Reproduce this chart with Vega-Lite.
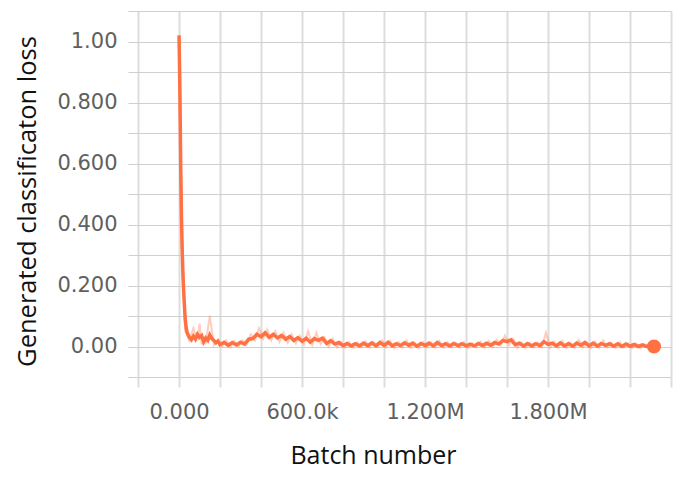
{
  "$schema": "https://vega.github.io/schema/vega-lite/v6.json",
  "autosize": {"type": "none"},
  "padding": {"left": 128, "top": 11, "right": 27, "bottom": 103},
  "width": 543,
  "height": 366,
  "background": "white",
  "config": {"view": {"stroke": null}},
  "datasets": {
    "smooth": [
      {"x": 0, "y": 1.02}, {"x": 4000, "y": 0.85}, {"x": 8000, "y": 0.6}, {"x": 12000, "y": 0.42}, {"x": 16000, "y": 0.3},
      {"x": 20000, "y": 0.22}, {"x": 25000, "y": 0.15}, {"x": 30000, "y": 0.09}, {"x": 35000, "y": 0.06}, {"x": 40000, "y": 0.045},
      {"x": 50000, "y": 0.03}, {"x": 60000, "y": 0.022}, {"x": 70000, "y": 0.034}, {"x": 80000, "y": 0.024}, {"x": 90000, "y": 0.04},
      {"x": 100000, "y": 0.03}, {"x": 110000, "y": 0.036}, {"x": 120000, "y": 0.016}, {"x": 130000, "y": 0.028}, {"x": 140000, "y": 0.02},
      {"x": 150000, "y": 0.038}, {"x": 160000, "y": 0.026}, {"x": 170000, "y": 0.02}, {"x": 180000, "y": 0.012}, {"x": 190000, "y": 0.018},
      {"x": 200000, "y": 0.006}, {"x": 220000, "y": 0.014}, {"x": 240000, "y": 0.004}, {"x": 260000, "y": 0.013}, {"x": 280000, "y": 0.005},
      {"x": 300000, "y": 0.014}, {"x": 320000, "y": 0.008}, {"x": 340000, "y": 0.024}, {"x": 360000, "y": 0.026}, {"x": 380000, "y": 0.04},
      {"x": 400000, "y": 0.032}, {"x": 420000, "y": 0.045}, {"x": 440000, "y": 0.03}, {"x": 460000, "y": 0.04}, {"x": 480000, "y": 0.028},
      {"x": 500000, "y": 0.036}, {"x": 520000, "y": 0.024}, {"x": 540000, "y": 0.033}, {"x": 560000, "y": 0.02}, {"x": 580000, "y": 0.029},
      {"x": 600000, "y": 0.017}, {"x": 620000, "y": 0.027}, {"x": 640000, "y": 0.014}, {"x": 660000, "y": 0.026}, {"x": 680000, "y": 0.02},
      {"x": 700000, "y": 0.027}, {"x": 720000, "y": 0.01}, {"x": 740000, "y": 0.019}, {"x": 760000, "y": 0.008}, {"x": 780000, "y": 0.013},
      {"x": 800000, "y": 0.003}, {"x": 820000, "y": 0.01}, {"x": 840000, "y": 0.002}, {"x": 860000, "y": 0.009}, {"x": 880000, "y": 0.002},
      {"x": 900000, "y": 0.011}, {"x": 920000, "y": 0.003}, {"x": 940000, "y": 0.012}, {"x": 960000, "y": 0.002}, {"x": 980000, "y": 0.013},
      {"x": 1000000, "y": 0.004}, {"x": 1020000, "y": 0.014}, {"x": 1040000, "y": 0.002}, {"x": 1060000, "y": 0.009}, {"x": 1080000, "y": 0.003},
      {"x": 1100000, "y": 0.012}, {"x": 1120000, "y": 0.004}, {"x": 1140000, "y": 0.011}, {"x": 1160000, "y": 0.001}, {"x": 1180000, "y": 0.01},
      {"x": 1200000, "y": 0.003}, {"x": 1220000, "y": 0.011}, {"x": 1240000, "y": 0.002}, {"x": 1260000, "y": 0.013}, {"x": 1280000, "y": 0.003},
      {"x": 1300000, "y": 0.009}, {"x": 1320000, "y": 0.002}, {"x": 1340000, "y": 0.01}, {"x": 1360000, "y": 0.003}, {"x": 1380000, "y": 0.009},
      {"x": 1400000, "y": 0.002}, {"x": 1420000, "y": 0.008}, {"x": 1440000, "y": 0.002}, {"x": 1460000, "y": 0.01}, {"x": 1480000, "y": 0.003},
      {"x": 1500000, "y": 0.011}, {"x": 1520000, "y": 0.004}, {"x": 1540000, "y": 0.013}, {"x": 1560000, "y": 0.008}, {"x": 1580000, "y": 0.02},
      {"x": 1600000, "y": 0.016}, {"x": 1620000, "y": 0.022}, {"x": 1640000, "y": 0.006}, {"x": 1660000, "y": 0.011}, {"x": 1680000, "y": 0.002},
      {"x": 1700000, "y": 0.01}, {"x": 1720000, "y": 0.002}, {"x": 1740000, "y": 0.009}, {"x": 1760000, "y": 0.003}, {"x": 1780000, "y": 0.016},
      {"x": 1800000, "y": 0.007}, {"x": 1820000, "y": 0.011}, {"x": 1840000, "y": 0.002}, {"x": 1860000, "y": 0.012}, {"x": 1880000, "y": 0.002},
      {"x": 1900000, "y": 0.01}, {"x": 1920000, "y": 0.001}, {"x": 1940000, "y": 0.011}, {"x": 1960000, "y": 0.004}, {"x": 1980000, "y": 0.013},
      {"x": 2000000, "y": 0.002}, {"x": 2020000, "y": 0.011}, {"x": 2040000, "y": 0.001}, {"x": 2060000, "y": 0.01}, {"x": 2080000, "y": 0.004},
      {"x": 2100000, "y": 0.009}, {"x": 2120000, "y": 0.001}, {"x": 2140000, "y": 0.009}, {"x": 2160000, "y": 0.0}, {"x": 2180000, "y": 0.008},
      {"x": 2200000, "y": 0.001}, {"x": 2220000, "y": 0.007}, {"x": 2240000, "y": 0.0}, {"x": 2260000, "y": 0.005}, {"x": 2280000, "y": 0.0},
      {"x": 2300000, "y": 0.003}, {"x": 2317000, "y": 0.0}
    ],
    "raw": [
      {"x": 0, "y": 1.02}, {"x": 10000, "y": 0.4}, {"x": 30000, "y": 0.05}, {"x": 50000, "y": 0.02}, {"x": 70000, "y": 0.06},
      {"x": 90000, "y": 0.02}, {"x": 100000, "y": 0.075}, {"x": 110000, "y": 0.01}, {"x": 130000, "y": 0.01}, {"x": 150000, "y": 0.1}, {"x": 170000, "y": 0.005},
      {"x": 190000, "y": 0.02}, {"x": 210000, "y": 0.0}, {"x": 230000, "y": 0.02}, {"x": 250000, "y": -0.002}, {"x": 270000, "y": 0.018},
      {"x": 290000, "y": 0.0}, {"x": 310000, "y": 0.02}, {"x": 330000, "y": 0.005}, {"x": 350000, "y": 0.04}, {"x": 370000, "y": 0.02},
      {"x": 390000, "y": 0.06}, {"x": 410000, "y": 0.025}, {"x": 430000, "y": 0.055}, {"x": 450000, "y": 0.02}, {"x": 470000, "y": 0.05},
      {"x": 490000, "y": 0.015}, {"x": 510000, "y": 0.045}, {"x": 530000, "y": 0.012}, {"x": 550000, "y": 0.04}, {"x": 570000, "y": 0.01},
      {"x": 590000, "y": 0.035}, {"x": 610000, "y": 0.008}, {"x": 630000, "y": 0.05}, {"x": 650000, "y": 0.005}, {"x": 670000, "y": 0.045},
      {"x": 690000, "y": 0.008}, {"x": 710000, "y": 0.03}, {"x": 730000, "y": 0.0}, {"x": 750000, "y": 0.025}, {"x": 770000, "y": -0.003},
      {"x": 790000, "y": 0.015}, {"x": 810000, "y": -0.004}, {"x": 830000, "y": 0.014}, {"x": 850000, "y": -0.005}, {"x": 870000, "y": 0.013},
      {"x": 890000, "y": -0.003}, {"x": 910000, "y": 0.016}, {"x": 930000, "y": -0.004}, {"x": 950000, "y": 0.015}, {"x": 970000, "y": -0.002},
      {"x": 990000, "y": 0.02}, {"x": 1010000, "y": -0.003}, {"x": 1030000, "y": 0.018}, {"x": 1050000, "y": -0.006}, {"x": 1070000, "y": 0.014},
      {"x": 1090000, "y": -0.003}, {"x": 1110000, "y": 0.02}, {"x": 1130000, "y": -0.004}, {"x": 1150000, "y": 0.012}, {"x": 1170000, "y": -0.005},
      {"x": 1190000, "y": 0.015}, {"x": 1210000, "y": -0.003}, {"x": 1230000, "y": 0.013}, {"x": 1250000, "y": -0.004}, {"x": 1270000, "y": 0.018},
      {"x": 1290000, "y": -0.005}, {"x": 1310000, "y": 0.014}, {"x": 1330000, "y": -0.003}, {"x": 1350000, "y": 0.012}, {"x": 1370000, "y": -0.004},
      {"x": 1390000, "y": 0.015}, {"x": 1410000, "y": -0.005}, {"x": 1430000, "y": 0.011}, {"x": 1450000, "y": -0.003}, {"x": 1470000, "y": 0.016},
      {"x": 1490000, "y": -0.004}, {"x": 1510000, "y": 0.018}, {"x": 1530000, "y": -0.002}, {"x": 1550000, "y": 0.022}, {"x": 1570000, "y": 0.004},
      {"x": 1590000, "y": 0.035}, {"x": 1610000, "y": 0.005}, {"x": 1630000, "y": 0.025}, {"x": 1650000, "y": -0.004}, {"x": 1670000, "y": 0.014},
      {"x": 1690000, "y": -0.005}, {"x": 1710000, "y": 0.012}, {"x": 1730000, "y": -0.004}, {"x": 1750000, "y": 0.013}, {"x": 1770000, "y": -0.002},
      {"x": 1790000, "y": 0.045}, {"x": 1810000, "y": -0.003}, {"x": 1830000, "y": 0.016}, {"x": 1850000, "y": -0.004}, {"x": 1870000, "y": 0.018},
      {"x": 1890000, "y": -0.005}, {"x": 1910000, "y": 0.012}, {"x": 1930000, "y": -0.004}, {"x": 1950000, "y": 0.022}, {"x": 1970000, "y": -0.003},
      {"x": 1990000, "y": 0.014}, {"x": 2010000, "y": -0.005}, {"x": 2030000, "y": 0.016}, {"x": 2050000, "y": -0.004}, {"x": 2070000, "y": 0.02},
      {"x": 2090000, "y": -0.003}, {"x": 2110000, "y": 0.012}, {"x": 2130000, "y": -0.005}, {"x": 2150000, "y": 0.014}, {"x": 2170000, "y": -0.004},
      {"x": 2190000, "y": 0.011}, {"x": 2210000, "y": -0.005}, {"x": 2230000, "y": 0.01}, {"x": 2250000, "y": -0.006}, {"x": 2270000, "y": 0.008},
      {"x": 2290000, "y": -0.004}, {"x": 2310000, "y": 0.004}
    ],
    "last": [{"x": 2317000, "y": 0.0}]
  },
  "encoding": {
    "x": {
      "field": "x", "type": "quantitative",
      "scale": {"domain": [-249000, 2400000], "nice": false, "zero": false},
      "axis": {
        "title": "Batch number",
        "values": [-200000, 0, 200000, 400000, 600000, 800000, 1000000, 1200000, 1400000, 1600000, 1800000, 2000000, 2200000, 2400000],
        "labelExpr": "datum.value == 0 ? '0.000' : datum.value == 600000 ? '600.0k' : datum.value == 1200000 ? '1.200M' : datum.value == 1800000 ? '1.800M' : ''",
        "domain": false,
        "grid": true, "gridColor": "#dddddd", "gridWidth": 2,
        "ticks": true, "tickColor": "#dddddd", "tickWidth": 2, "tickSize": 10,
        "labelFont": "DejaVu Sans", "labelFontSize": 21, "labelColor": "#5f5f5f", "labelPadding": 14,
        "labelOverlap": false, "labelBaseline": "top",
        "titleFont": "Open Sans", "titleFontSize": 25, "titleFontWeight": "normal", "titleColor": "#111111",
        "titleX": 245, "titleY": 86, "titleAlign": "center", "titleBaseline": "alphabetic"
      }
    },
    "y": {
      "field": "y", "type": "quantitative",
      "scale": {"domain": [-0.1, 1.1], "nice": false, "zero": false},
      "axis": {
        "title": "Generated classificaton loss",
        "values": [-0.1, 0, 0.1, 0.2, 0.3, 0.4, 0.5, 0.6, 0.7, 0.8, 0.9, 1.0, 1.1],
        "labelExpr": "(datum.value < 0 || round(datum.value * 10) % 2 != 0) ? '' : ((datum.value == 0 || round(datum.value * 10) == 10) ? format(datum.value, '.2f') : format(datum.value, '.3f'))",
        "domain": false,
        "grid": true, "gridColor": "#cfcfcf", "gridWidth": 1.2,
        "ticks": false, "tickSize": 0,
        "labelFont": "DejaVu Sans", "labelFontSize": 21, "labelColor": "#5f5f5f", "labelPadding": 11,
        "labelOverlap": false,
        "titleFont": "Open Sans", "titleFontSize": 25.5, "titleFontWeight": "normal", "titleColor": "#111111",
        "titleAngle": -90, "titleX": -93, "titleY": 190, "titleAlign": "center", "titleBaseline": "alphabetic"
      }
    }
  },
  "layer": [
    {"mark": {"type": "rule", "color": "#9e9e9e", "strokeWidth": 2}, "encoding": {"x": {"datum": 0}, "y": null}},
    {"mark": {"type": "rule", "color": "#9e9e9e", "strokeWidth": 2}, "encoding": {"y": {"datum": 0}, "x": null}},
    {"data": {"name": "raw"}, "mark": {"type": "line", "color": "#ff7043", "opacity": 0.35, "strokeWidth": 2}},
    {"data": {"name": "smooth"}, "mark": {"type": "line", "color": "#ff7043", "strokeWidth": 3.5}},
    {"data": {"name": "last"}, "mark": {"type": "circle", "color": "#ff7043", "opacity": 1, "size": 200}}
  ]
}
